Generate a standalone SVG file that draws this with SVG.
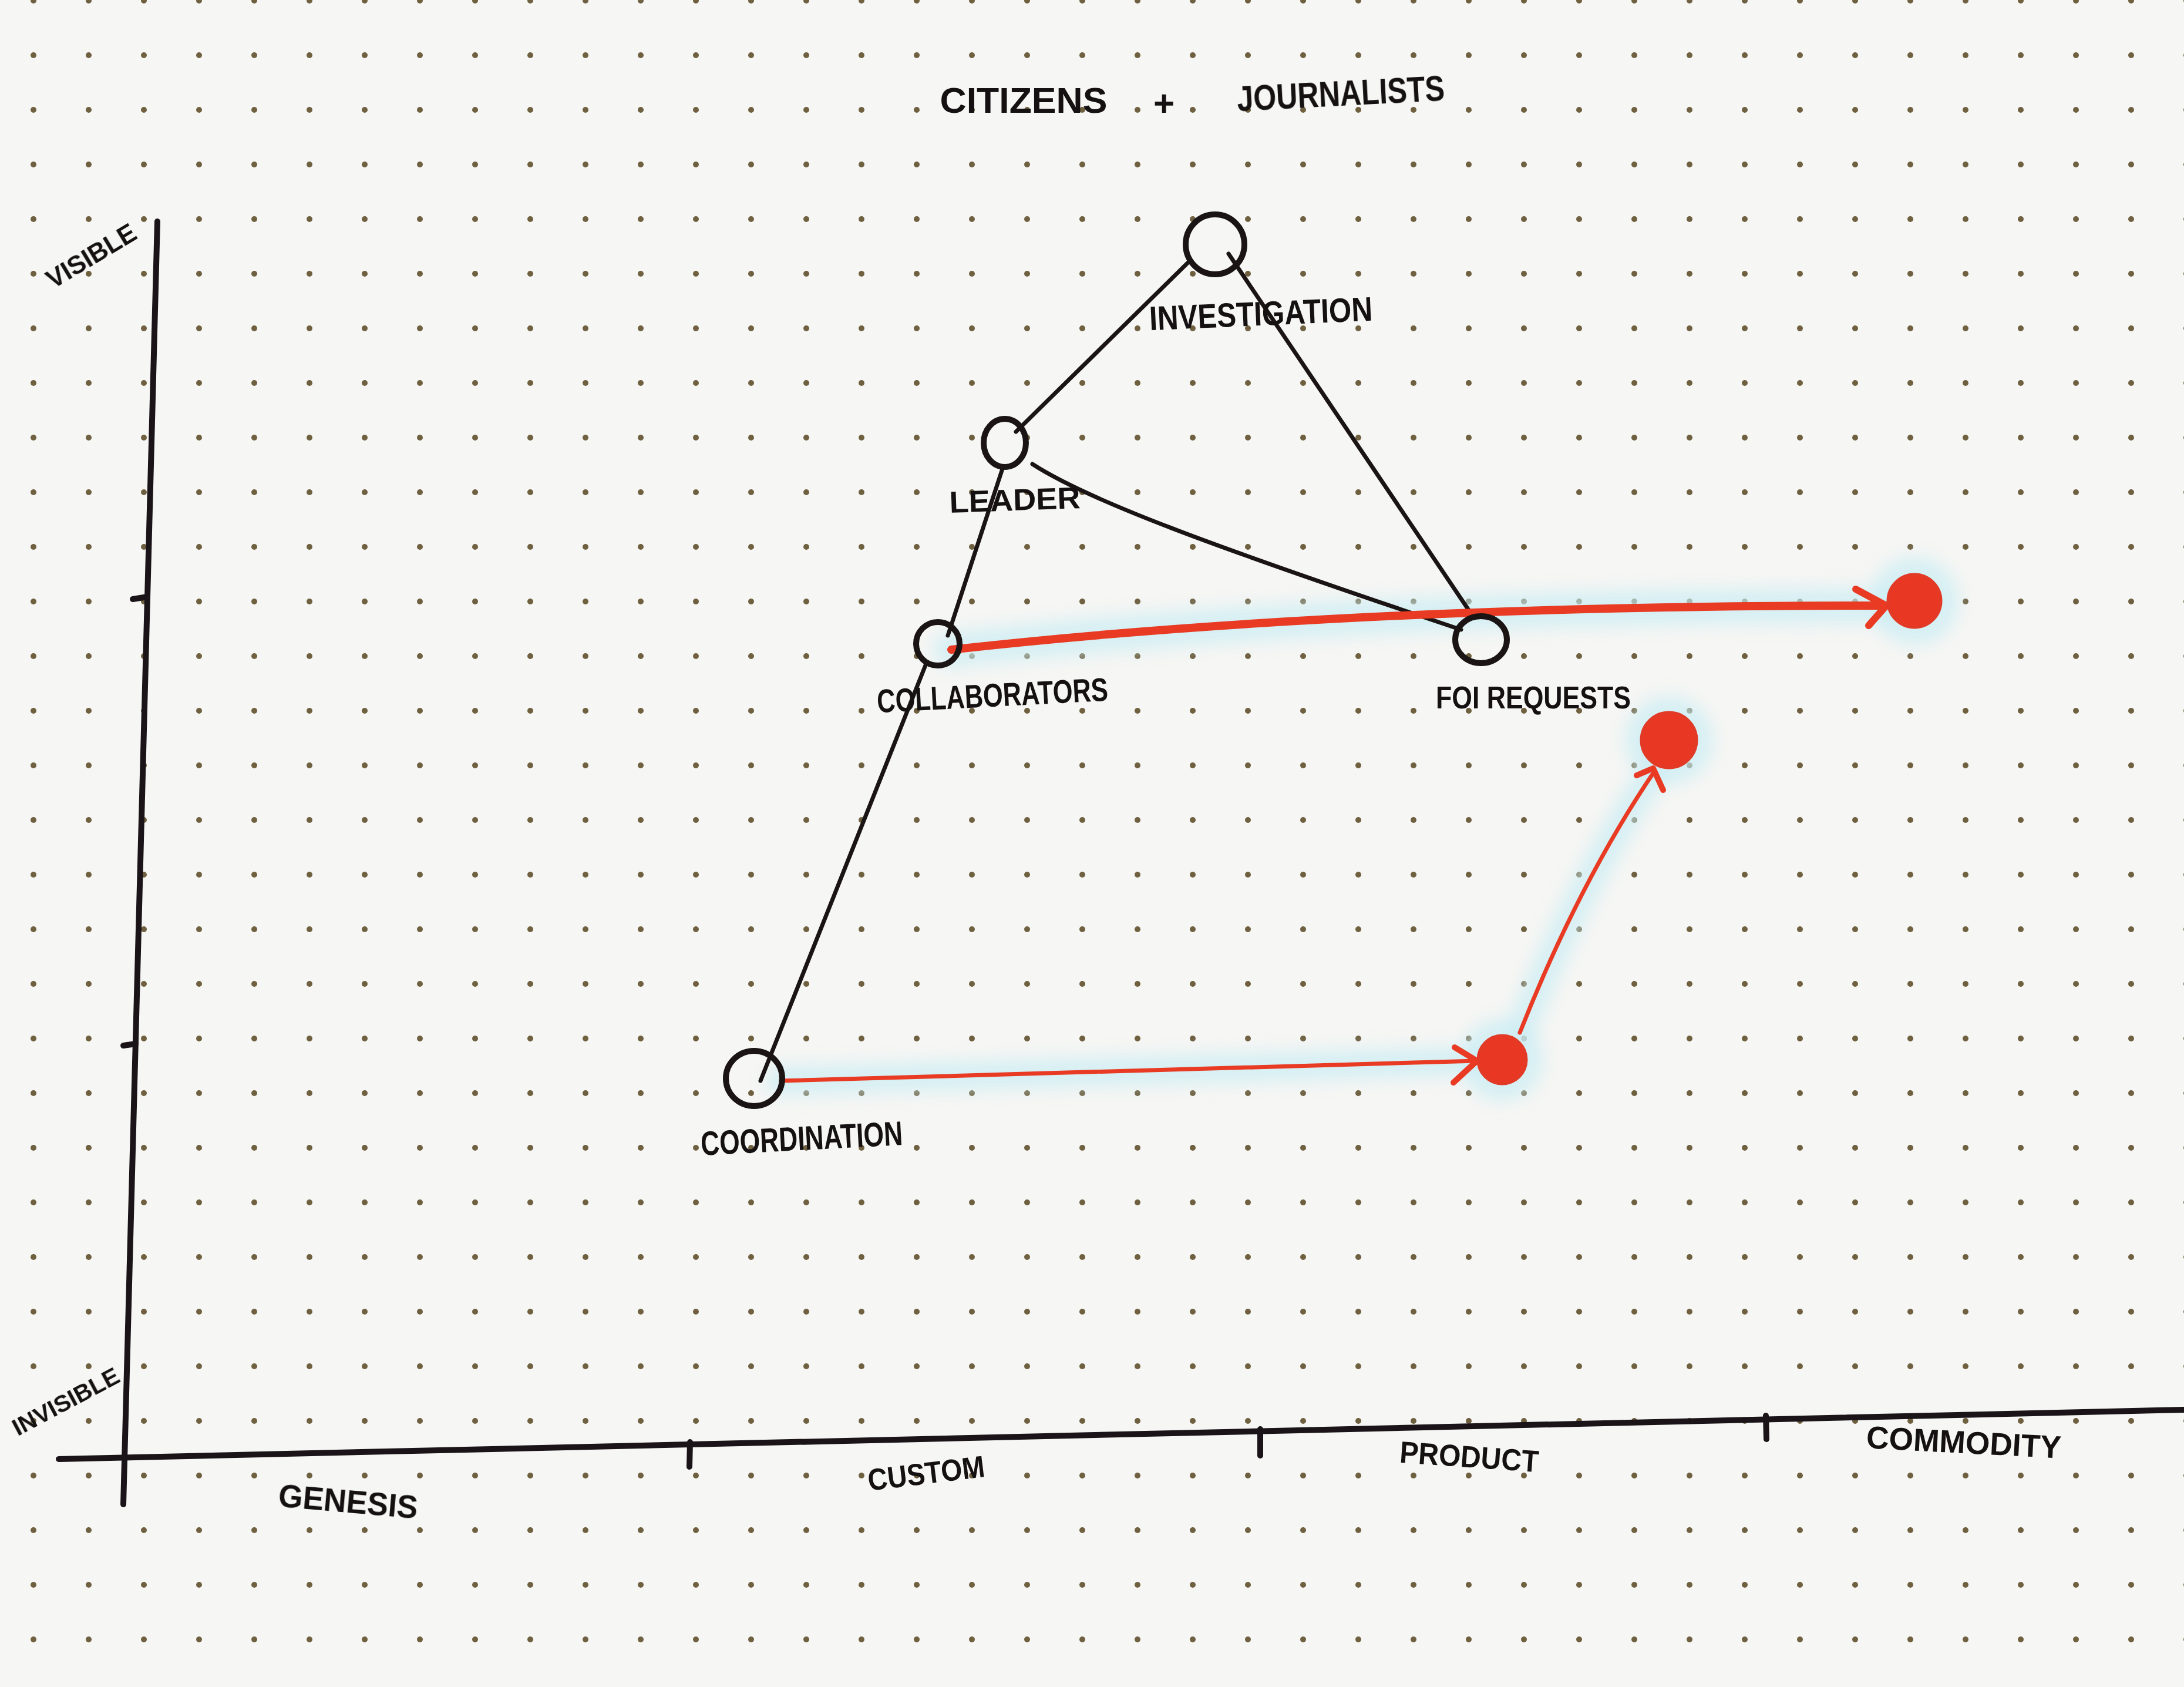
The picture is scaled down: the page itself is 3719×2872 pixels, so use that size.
<svg xmlns="http://www.w3.org/2000/svg" width="3719" height="2872" viewBox="0 0 3719 2872">
<defs>
<pattern id="dots" patternUnits="userSpaceOnUse" x="10" y="-45" width="94" height="93">
<circle cx="47" cy="46" r="5" fill="#6f6040"/>
</pattern>
<filter id="blur" x="-20%" y="-20%" width="140%" height="140%"><feGaussianBlur stdDeviation="14"/></filter>
</defs>
<style>
.ink{fill:none;stroke:#1a1414;stroke-width:7;stroke-linecap:round;stroke-linejoin:round}
.axis{fill:none;stroke:#1a1418;stroke-width:10;stroke-linecap:round}
.node{fill:none;stroke:#1a1414;stroke-width:10}
.red{fill:none;stroke:#e93a24;stroke-linecap:round;stroke-linejoin:round}
.dot{fill:#e83823;stroke:#e23a26;stroke-width:5}
.halo{fill:none;stroke:#c9ecf4;stroke-linecap:round;opacity:0.7}
.t{font-family:"Liberation Sans",Arial,sans-serif;font-weight:700;fill:#151112;text-anchor:middle}
</style>
<rect width="3719" height="2872" fill="#f6f6f4"/>
<rect width="3719" height="2872" fill="url(#dots)"/>

<g id="halo" filter="url(#blur)">
<path class="halo" stroke-width="60" d="M1620 1106 Q2300 1030 3212 1031"/>
<path class="halo" stroke-width="50" d="M1330 1840 L2515 1806"/>
<path class="halo" stroke-width="50" d="M2588 1758 Q2690 1500 2818 1312"/>
<circle cx="3260" cy="1023" r="75" fill="#c9ecf4" opacity="0.7"/>
<circle cx="2842" cy="1260" r="75" fill="#c9ecf4" opacity="0.7"/>
<circle cx="2558" cy="1804" r="70" fill="#c9ecf4" opacity="0.7"/>
</g>

<g id="axes">
<path class="axis" d="M268 377 L210 2561"/>
<path class="axis" stroke-width="9" d="M100 2484 L3719 2400"/>
<path class="axis" stroke-width="6" d="M226 1020 L251 1016"/>
<path class="axis" stroke-width="6" d="M210 1780 L231 1777"/>
<path class="axis" stroke-width="6" d="M1175 2455 L1174 2497"/>
<path class="axis" stroke-width="6" d="M2146 2433 L2146 2478"/>
<path class="axis" stroke-width="6" d="M3007 2410 L3008 2450"/>
</g>

<g id="connectors">
<path class="ink" d="M2023 447 L1730 735"/>
<path class="ink" d="M2092 432 L2510 1052"/>
<path class="ink" d="M1758 790 C1850 850 2050 925 2488 1072"/>
<path class="ink" d="M1708 795 L1614 1082"/>
<path class="ink" d="M1577 1130 L1295 1840"/>
<path class="red" stroke-width="14" d="M1620 1106 Q2300 1030 3212 1031"/>
<path class="red" stroke-width="12" d="M3160 1003 L3212 1031 L3182 1065"/>
<path class="red" stroke-width="7" d="M1330 1840 L2515 1806"/>
<path class="red" stroke-width="10" d="M2477 1783 L2515 1806 L2475 1843"/>
<path class="red" stroke-width="7" d="M2588 1758 Q2690 1500 2818 1312"/>
<path class="red" stroke-width="10" d="M2787 1320 L2815 1308 L2832 1345"/>
</g>

<g id="title">
<text class="t" x="1743" y="192" font-size="62" textLength="285" lengthAdjust="spacingAndGlyphs">CITIZENS</text>
<text class="t" x="1982" y="197" font-size="62">+</text>
<text class="t" x="2283" y="180" font-size="62" textLength="354" lengthAdjust="spacingAndGlyphs" transform="rotate(-3 2283 158)">JOURNALISTS</text>
</g>

<g id="axis-labels">
<text class="t" x="155" y="451" font-size="44" textLength="170" lengthAdjust="spacingAndGlyphs" transform="rotate(-31 155 435)">VISIBLE</text>
<text class="t" x="112" y="2400" font-size="40" textLength="200" lengthAdjust="spacingAndGlyphs" transform="rotate(-28 112 2386)">INVISIBLE</text>
<text class="t" x="593" y="2575" font-size="56" textLength="238" lengthAdjust="spacingAndGlyphs" transform="rotate(5 593 2555)">GENESIS</text>
<text class="t" x="1577" y="2526" font-size="52" textLength="200" lengthAdjust="spacingAndGlyphs" transform="rotate(-7 1577 2507)">CUSTOM</text>
<text class="t" x="2502" y="2498" font-size="52" textLength="237" lengthAdjust="spacingAndGlyphs" transform="rotate(4 2502 2479)">PRODUCT</text>
<text class="t" x="3344" y="2474" font-size="54" textLength="332" lengthAdjust="spacingAndGlyphs" transform="rotate(3 3344 2455)">COMMODITY</text>
</g>

<g id="node-investigation">
<ellipse class="node" cx="2069" cy="416" rx="50" ry="51"/>
<text class="t" x="2147" y="554" font-size="58" textLength="380" lengthAdjust="spacingAndGlyphs" transform="rotate(-2.5 2147 533)">INVESTIGATION</text>
</g>
<g id="node-leader">
<ellipse class="node" cx="1711" cy="754" rx="36" ry="41"/>
<text class="t" x="1728" y="869" font-size="52" textLength="223" lengthAdjust="spacingAndGlyphs" transform="rotate(-2 1728 850)">LEADER</text>
</g>
<g id="node-collaborators">
<ellipse class="node" cx="1597" cy="1096" rx="37" ry="37"/>
<text class="t" x="1690" y="1203" font-size="56" textLength="394" lengthAdjust="spacingAndGlyphs" transform="rotate(-3 1690 1183)">COLLABORATORS</text>
</g>
<g id="node-foi">
<ellipse class="node" cx="2522" cy="1089" rx="44" ry="40"/>
<text class="t" x="2611" y="1206" font-size="54" textLength="332" lengthAdjust="spacingAndGlyphs">FOI REQUESTS</text>
</g>
<g id="node-coordination">
<ellipse class="node" cx="1284" cy="1836" rx="48" ry="47"/>
<text class="t" x="1365" y="1958" font-size="58" textLength="344" lengthAdjust="spacingAndGlyphs" transform="rotate(-3 1365 1937)">COORDINATION</text>
</g>
<g id="node-target-1">
<circle class="dot" cx="3260" cy="1023" r="45"/>
</g>
<g id="node-target-2">
<circle class="dot" cx="2842" cy="1260" r="47"/>
</g>
<g id="node-target-3">
<circle class="dot" cx="2558" cy="1804" r="41"/>
</g>
</svg>
